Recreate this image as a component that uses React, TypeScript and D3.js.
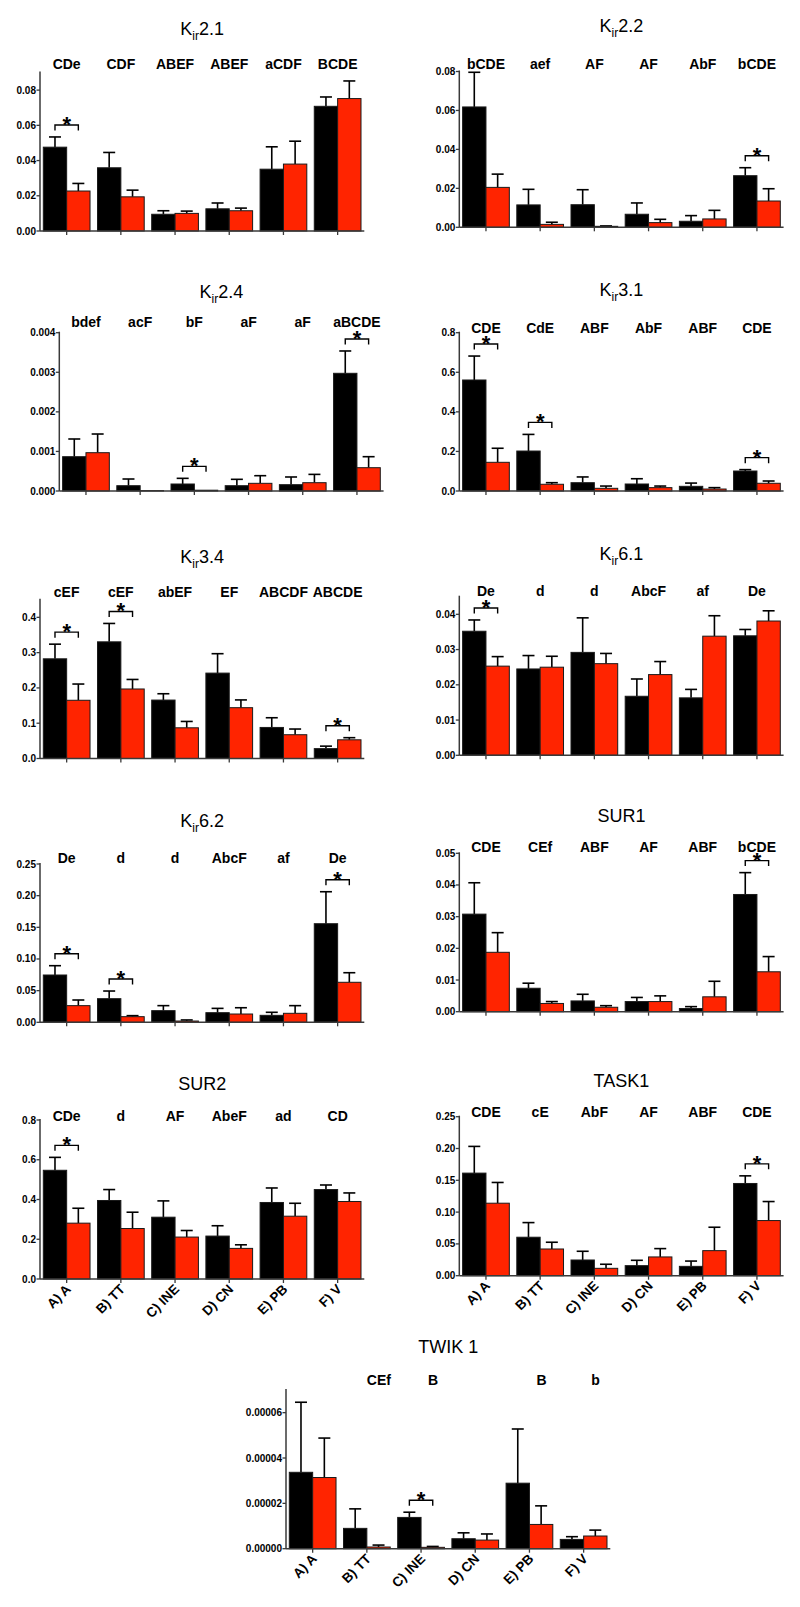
import React from "react";
import * as d3 from "d3";

const groups = ["A) A", "B) TT", "C) INE", "D) CN", "E) PB", "F) V"];
const series = ["black", "red"];

// ---- Kir2.1
const kir21Black = [0.0476, 0.0359, 0.0095, 0.0126, 0.0351, 0.0708];
const kir21BlackSem = [0.0058, 0.0087, 0.002, 0.0033, 0.0127, 0.0053];
const kir21Red = [0.0227, 0.0194, 0.01, 0.0115, 0.038, 0.0752];
const kir21RedSem = [0.0043, 0.0038, 0.0013, 0.0015, 0.013, 0.01];
const kir21Letters = ["CDe", "CDF", "ABEF", "ABEF", "aCDF", "BCDE"];
const kir21Sig = [0];
const kir21Ticks = [0, 0.02, 0.04, 0.06, 0.08];

// ---- Kir2.2
const kir22Black = [0.0618, 0.0115, 0.0116, 0.0067, 0.0031, 0.0265];
const kir22BlackSem = [0.0178, 0.008, 0.0077, 0.0058, 0.0029, 0.0041];
const kir22Red = [0.0205, 0.0015, 0.0005, 0.0024, 0.0043, 0.0135];
const kir22RedSem = [0.0068, 0.0011, 0.0002, 0.0017, 0.0044, 0.0063];
const kir22Letters = ["bCDE", "aef", "AF", "AF", "AbF", "bCDE"];
const kir22Sig = [5];
const kir22Ticks = [0, 0.02, 0.04, 0.06, 0.08];

// ---- Kir2.4
const kir24Black = [0.000867, 0.000134, 0.000177, 0.000134, 0.00016, 0.002974];
const kir24BlackSem = [0.000447, 0.000169, 0.000143, 0.000161, 0.000194, 0.000564];
const kir24Red = [0.000968, 0.00001, 0.00002, 0.000194, 0.00021, 0.000589];
const kir24RedSem = [0.000472, 0, 0, 0.000193, 0.00021, 0.000278];
const kir24Letters = ["bdef", "acF", "bF", "aF", "aF", "aBCDE"];
const kir24Sig = [2, 5];
const kir24Ticks = [0, 0.001, 0.002, 0.003, 0.004];

// ---- Kir3.1
const kir31Black = [0.561, 0.202, 0.042, 0.0354, 0.0236, 0.101];
const kir31BlackSem = [0.121, 0.084, 0.029, 0.0266, 0.0164, 0.007];
const kir31Red = [0.145, 0.034, 0.0136, 0.017, 0.01, 0.039];
const kir31RedSem = [0.071, 0.008, 0.0114, 0.008, 0.007, 0.0115];
const kir31Letters = ["CDE", "CdE", "ABF", "AbF", "ABF", "CDE"];
const kir31Sig = [0, 1, 5];
const kir31Ticks = [0, 0.2, 0.4, 0.6, 0.8];

// ---- Kir3.4
const kir34Black = [0.2825, 0.3306, 0.1656, 0.242, 0.088, 0.028];
const kir34BlackSem = [0.0415, 0.0521, 0.0179, 0.055, 0.0275, 0.007];
const kir34Red = [0.165, 0.197, 0.087, 0.144, 0.0674, 0.053];
const kir34RedSem = [0.046, 0.027, 0.018, 0.022, 0.0161, 0.006];
const kir34Letters = ["cEF", "cEF", "abEF", "EF", "ABCDF", "ABCDE"];
const kir34Sig = [0, 1, 5];
const kir34Ticks = [0, 0.1, 0.2, 0.3, 0.4];

// ---- Kir6.1
const kir61Black = [0.0352, 0.0245, 0.0292, 0.01675, 0.0163, 0.0339];
const kir61BlackSem = [0.0032, 0.0038, 0.0098, 0.0049, 0.0024, 0.0018];
const kir61Red = [0.0253, 0.025, 0.026, 0.0229, 0.0338, 0.0381];
const kir61RedSem = [0.0027, 0.0031, 0.0029, 0.0037, 0.0058, 0.0029];
const kir61Letters = ["De", "d", "d", "AbcF", "af", "De"];
const kir61Sig = [0];
const kir61Ticks = [0, 0.01, 0.02, 0.03, 0.04];

// ---- Kir6.2
const kir62Black = [0.0747, 0.0373, 0.0184, 0.0152, 0.011, 0.1557];
const kir62BlackSem = [0.0147, 0.0121, 0.0079, 0.0068, 0.0048, 0.0505];
const kir62Red = [0.0263, 0.0089, 0.002, 0.0131, 0.0142, 0.0632];
const kir62RedSem = [0.0089, 0.0016, 0.0017, 0.0099, 0.0121, 0.0151];
const kir62Letters = ["De", "d", "d", "AbcF", "af", "De"];
const kir62Sig = [0, 1, 5];
const kir62Ticks = [0, 0.05, 0.1, 0.15, 0.2, 0.25];

// ---- SUR1
const sur1Black = [0.0308, 0.0074, 0.0034, 0.0032, 0.001, 0.037];
const sur1BlackSem = [0.0099, 0.0016, 0.0021, 0.0013, 0.0006, 0.0069];
const sur1Red = [0.01875, 0.0026, 0.0014, 0.0032, 0.0047, 0.0126];
const sur1RedSem = [0.0062, 0.0006, 0.0005, 0.0018, 0.0049, 0.0048];
const sur1Letters = ["CDE", "CEf", "ABF", "AF", "ABF", "bCDE"];
const sur1Sig = [5];
const sur1Ticks = [0, 0.01, 0.02, 0.03, 0.04, 0.05];

// ---- SUR2
const sur2Black = [0.547, 0.395, 0.311, 0.216, 0.385, 0.45];
const sur2BlackSem = [0.065, 0.055, 0.082, 0.052, 0.073, 0.023];
const sur2Red = [0.281, 0.254, 0.211, 0.154, 0.316, 0.39];
const sur2RedSem = [0.075, 0.082, 0.033, 0.018, 0.065, 0.043];
const sur2Letters = ["CDe", "d", "AF", "AbeF", "ad", "CD"];
const sur2Sig = [0];
const sur2Ticks = [0, 0.2, 0.4, 0.6, 0.8];

// ---- TASK1
const task1Black = [0.1613, 0.0605, 0.0247, 0.0158, 0.0147, 0.145];
const task1BlackSem = [0.042, 0.023, 0.0137, 0.0084, 0.0083, 0.012];
const task1Red = [0.114, 0.042, 0.0116, 0.0295, 0.0394, 0.0867];
const task1RedSem = [0.0326, 0.0106, 0.0064, 0.0131, 0.0368, 0.0299];
const task1Letters = ["CDE", "cE", "AbF", "AF", "ABF", "CDE"];
const task1Sig = [5];
const task1Ticks = [0, 0.05, 0.1, 0.15, 0.2, 0.25];

// ---- TWIK 1
const twikBlack = [3.37e-5, 8.97e-6, 1.38e-5, 4.4e-6, 2.89e-5, 4.1e-6];
const twikBlackSem = [3.09e-5, 8.6e-6, 2.3e-6, 2.6e-6, 2.39e-5, 1.2e-6];
const twikRed = [3.14e-5, 7.5e-7, 6e-7, 3.8e-6, 1.07e-5, 5.6e-6];
const twikRedSem = [1.74e-5, 8.5e-7, 4e-7, 2.7e-6, 8.2e-6, 2.6e-6];
const twikLetters = ["", "CEf", "B", "", "B", "b"];
const twikSig = [2];
const twikTicks = [0, 0.00002, 0.00004, 0.00006];

const panels = [
  { title: ["K", "ir", "2.1"], black: kir21Black, blackSem: kir21BlackSem, red: kir21Red, redSem: kir21RedSem, letters: kir21Letters, sig: kir21Sig, ticks: kir21Ticks, max: 0.09, fmt: ".2f",
    ax: 40, y0: 231, top: 72.5, ty: 28, ly: 63, lx: 0, xlabels: false },
  { title: ["K", "ir", "2.2"], black: kir22Black, blackSem: kir22BlackSem, red: kir22Red, redSem: kir22RedSem, letters: kir22Letters, sig: kir22Sig, ticks: kir22Ticks, max: 0.08, fmt: ".2f",
    ax: 459.3, y0: 227.3, top: 71.5, ty: 25, ly: 63.3, lx: 0, xlabels: false },
  { title: ["K", "ir", "2.4"], black: kir24Black, blackSem: kir24BlackSem, red: kir24Red, redSem: kir24RedSem, letters: kir24Letters, sig: kir24Sig, ticks: kir24Ticks, max: 0.004, fmt: ".3f",
    ax: 59.3, y0: 491, top: 332.7, ty: 291.7, ly: 321, lx: 0, xlabels: false },
  { title: ["K", "ir", "3.1"], black: kir31Black, blackSem: kir31BlackSem, red: kir31Red, redSem: kir31RedSem, letters: kir31Letters, sig: kir31Sig, ticks: kir31Ticks, max: 0.8, fmt: ".1f",
    ax: 459.3, y0: 491, top: 332.7, ty: 289, ly: 327.7, lx: 0, xlabels: false },
  { title: ["K", "ir", "3.4"], black: kir34Black, blackSem: kir34BlackSem, red: kir34Red, redSem: kir34RedSem, letters: kir34Letters, sig: kir34Sig, ticks: kir34Ticks, max: 0.45, fmt: ".1f",
    ax: 40, y0: 758.5, top: 599.7, ty: 556.7, ly: 591, lx: 0, xlabels: false },
  { title: ["K", "ir", "6.1"], black: kir61Black, blackSem: kir61BlackSem, red: kir61Red, redSem: kir61RedSem, letters: kir61Letters, sig: kir61Sig, ticks: kir61Ticks, max: 0.045, fmt: ".2f",
    ax: 459.3, y0: 755.3, top: 596.7, ty: 553, ly: 590, lx: 0, xlabels: false },
  { title: ["K", "ir", "6.2"], black: kir62Black, blackSem: kir62BlackSem, red: kir62Red, redSem: kir62RedSem, letters: kir62Letters, sig: kir62Sig, ticks: kir62Ticks, max: 0.25, fmt: ".2f",
    ax: 40, y0: 1022.3, top: 864, ty: 820, ly: 857.3, lx: 0, xlabels: false },
  { title: ["SUR1"], black: sur1Black, blackSem: sur1BlackSem, red: sur1Red, redSem: sur1RedSem, letters: sur1Letters, sig: sur1Sig, ticks: sur1Ticks, max: 0.05, fmt: ".2f",
    ax: 459.3, y0: 1011.7, top: 853.3, ty: 815, ly: 846, lx: 0, xlabels: false },
  { title: ["SUR2"], black: sur2Black, blackSem: sur2BlackSem, red: sur2Red, redSem: sur2RedSem, letters: sur2Letters, sig: sur2Sig, ticks: sur2Ticks, max: 0.8, fmt: ".1f",
    ax: 40, y0: 1279, top: 1120, ty: 1083.3, ly: 1115, lx: 0, xlabels: true },
  { title: ["TASK1"], black: task1Black, blackSem: task1BlackSem, red: task1Red, redSem: task1RedSem, letters: task1Letters, sig: task1Sig, ticks: task1Ticks, max: 0.25, fmt: ".2f",
    ax: 459.3, y0: 1275.7, top: 1116.7, ty: 1080, ly: 1111.7, lx: 0, xlabels: true },
  { title: ["TWIK 1"], black: twikBlack, blackSem: twikBlackSem, red: twikRed, redSem: twikRedSem, letters: twikLetters, sig: twikSig, ticks: twikTicks, max: 0.00007, fmt: ".5f",
    ax: 286, y0: 1548.7, top: 1390, ty: 1346.7, ly: 1379.3, lx: 12, xlabels: true },
];

const FONT = "'Liberation Sans', Arial, Helvetica, sans-serif";
const RED = "#ff2400";
const AXIS = "#3a3a3a";

function Panel({ p }: { p: any }) {
  const width = 324.3;
  const x = d3.scaleBand<string>().domain(groups).range([p.ax, p.ax + width]).paddingInner(0.138).paddingOuter(0.061);
  const xi = d3.scaleBand<string>().domain(series).range([0, x.bandwidth()]);
  const y = d3.scaleLinear().domain([0, p.max]).range([p.y0, p.top]);
  const fmt = d3.format(p.fmt);
  const bw = xi.bandwidth();
  const cx = (p.ax + p.ax + width) / 2;

  const bars: any[] = [];
  groups.forEach((g, i) => {
    series.forEach((s) => {
      const v = s === "black" ? p.black[i] : p.red[i];
      const e = s === "black" ? p.blackSem[i] : p.redSem[i];
      const x0 = (x(g) as number) + (xi(s) as number);
      const yt = y(v);
      const mid = x0 + bw / 2;
      bars.push(
        <g key={g + s}>
          {e > 0 && (
            <g stroke="#000" strokeWidth={1.6}>
              <line x1={mid} x2={mid} y1={yt} y2={y(v + e)} />
              <line x1={mid - 6} x2={mid + 6} y1={y(v + e)} y2={y(v + e)} />
            </g>
          )}
          <rect x={x0} y={yt} width={bw} height={p.y0 - yt} fill={s === "black" ? "#000" : RED} stroke="#1a1a1a" strokeWidth={1} />
        </g>
      );
    });
  });

  const brackets = p.sig.map((i: number) => {
    const g = groups[i];
    const bx1 = (x(g) as number) + (xi("black") as number) + bw / 2;
    const bx2 = (x(g) as number) + (xi("red") as number) + bw / 2;
    const tb = y(p.black[i] + p.blackSem[i]);
    const tr = y(p.red[i] + p.redSem[i]);
    const by = Math.min(tb, tr) - 12;
    return (
      <g key={"sig" + i}>
        <path d={`M${bx1},${by + 5.5}V${by}H${bx2}V${by + 5.5}`} fill="none" stroke="#000" strokeWidth={1.4} />
        <text x={(bx1 + bx2) / 2} y={by + 7} textAnchor="middle" fontFamily={FONT} fontWeight="bold" fontSize={22}>*</text>
      </g>
    );
  });

  return (
    <g>
      <text x={cx} y={p.ty + 6.5} textAnchor="middle" fontFamily={FONT} fontSize={18} fill="#000">
        {p.title.length === 3 ? (
          <>
            <tspan>{p.title[0]}</tspan>
            <tspan fontSize={12} dy={5}>{p.title[1]}</tspan>
            <tspan dy={-5}>{p.title[2]}</tspan>
          </>
        ) : (
          p.title[0]
        )}
      </text>
      {groups.map((g, i) => (
        <text key={"l" + i} x={(x(g) as number) + x.bandwidth() / 2 + p.lx} y={p.ly + 5.5} textAnchor="middle" fontFamily={FONT} fontWeight="bold" fontSize={14}>
          {p.letters[i]}
        </text>
      ))}
      {bars}
      {brackets}
      {/* y axis */}
      <line x1={p.ax} x2={p.ax} y1={p.y0} y2={p.top - 1} stroke={AXIS} strokeWidth={1.5} />
      {p.ticks.map((t: number) => (
        <g key={"t" + t}>
          <line x1={p.ax - 3.5} x2={p.ax} y1={y(t)} y2={y(t)} stroke={AXIS} strokeWidth={1.3} />
          <text x={p.ax - 4} y={y(t) + 3.5} textAnchor="end" fontFamily={FONT} fontWeight="bold" fontSize={10}>
            {fmt(t)}
          </text>
        </g>
      ))}
      {/* x axis */}
      <line x1={p.ax} x2={p.ax + width} y1={p.y0} y2={p.y0} stroke={AXIS} strokeWidth={1.5} />
      {groups.map((g, i) => {
        const gx = (x(g) as number) + x.bandwidth() / 2;
        return (
          <g key={"xt" + i}>
            <line x1={gx} x2={gx} y1={p.y0} y2={p.y0 + 4} stroke={AXIS} strokeWidth={1.3} />
            {p.xlabels && (
              <text transform={`translate(${gx + 5},${p.y0 + 11}) rotate(-45)`} textAnchor="end" fontFamily={FONT} fontWeight="bold" fontSize={13.5}>
                {g}
              </text>
            )}
          </g>
        );
      })}
    </g>
  );
}

export default function App() {
  return (
    <svg width={800} height={1607} style={{ position: "absolute", left: 0, top: 0, background: "#fff" }}>
      <rect width={800} height={1607} fill="#fff" />
      {panels.map((p, i) => (
        <Panel key={i} p={p} />
      ))}
    </svg>
  );
}
